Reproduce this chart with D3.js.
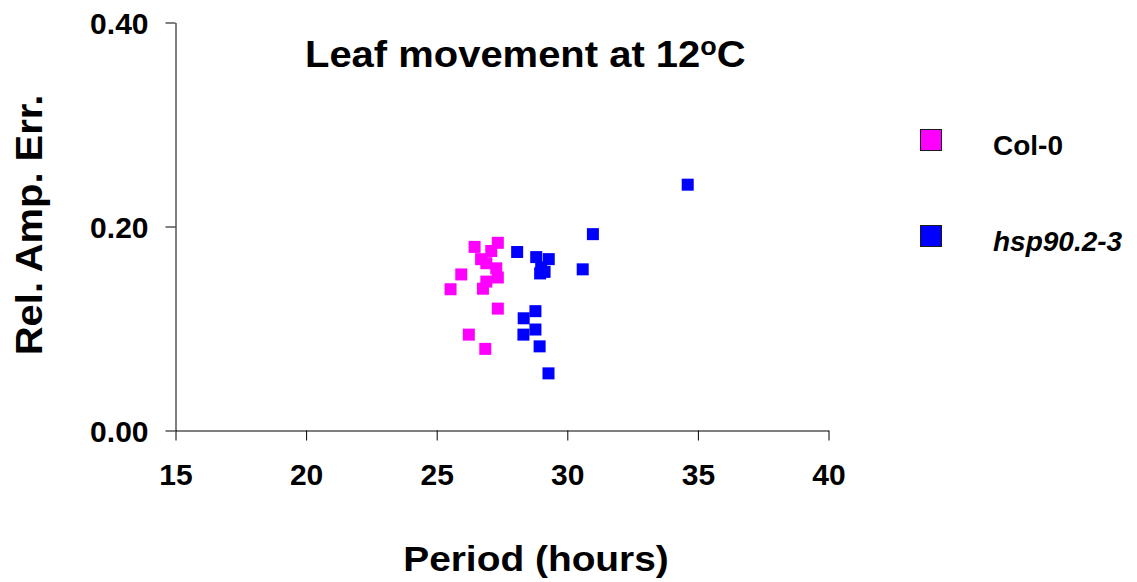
<!DOCTYPE html>
<html>
<head>
<meta charset="utf-8">
<script src="https://cdn.jsdelivr.net/npm/d3@7"></script>
<style>
  html, body { margin: 0; padding: 0; background: #fff; }
  svg { display: block; font-family: Arial, "Liberation Sans", sans-serif; }
</style>
</head>
<body>
<svg id="chart" width="1137" height="582"></svg>
<script>
// Period vs relative amplitude error, leaf movement at 12 °C
const seriesNames = ["Col-0", "hsp90.2-3"];
const seriesColors = ["#ff00ff", "#0000ff"];

const col0Period = [26.45, 27.34, 27.09, 26.70, 26.90, 27.28, 25.94, 27.34, 26.90, 25.53, 26.77, 27.34, 26.23, 26.86];
const col0RAE    = [0.180, 0.184, 0.176, 0.168, 0.164, 0.159, 0.153, 0.150, 0.146, 0.1385, 0.139, 0.1195, 0.094, 0.080];

const hspPeriod = [34.61, 30.98, 28.08, 28.81, 29.29, 30.59, 29.00, 28.96, 29.13, 28.78, 28.33, 28.78, 28.32, 28.94, 29.28];
const hspRAE    = [0.241, 0.1925, 0.175, 0.170, 0.168, 0.158, 0.160, 0.154, 0.1555, 0.117, 0.110, 0.099, 0.094, 0.0825, 0.056];

const xTicks = [15, 20, 25, 30, 35, 40];
const yTicks = [0.00, 0.20, 0.40];

const series = [
  { name: seriesNames[0], color: seriesColors[0], italic: false,
    points: col0Period.map((p, i) => ({ x: p, y: col0RAE[i] })) },
  { name: seriesNames[1], color: seriesColors[1], italic: true,
    points: hspPeriod.map((p, i) => ({ x: p, y: hspRAE[i] })) }
];

const svg = d3.select("#chart");
const x = d3.scaleLinear().domain([15, 40]).range([175.5, 828.5]);
const y = d3.scaleLinear().domain([0, 0.4]).range([430.5, 22.5]);

// axes
const xAxis = svg.append("g")
  .attr("transform", "translate(0,430.5)")
  .call(d3.axisBottom(x).tickValues(xTicks).tickSize(10).tickSizeOuter(0).tickPadding(23).tickFormat(d3.format("d")));
const yAxis = svg.append("g")
  .attr("transform", "translate(175.5,0)")
  .call(d3.axisLeft(y).tickValues(yTicks).tickSize(10).tickSizeOuter(0).tickPadding(17).tickFormat(d3.format(".2f")));

[xAxis, yAxis].forEach(g => {
  g.select(".domain").attr("stroke", "#000").attr("stroke-width", 1);
  g.selectAll(".tick line").attr("stroke", "#000").attr("stroke-width", 1);
  g.selectAll(".tick text")
    .attr("fill", "#000")
    .style("font-family", "Arial, 'Liberation Sans', sans-serif")
    .style("font-weight", "bold")
    .style("font-size", "30px");
});
xAxis.selectAll(".tick text").attr("dy", "0.71em");
yAxis.selectAll(".tick text").attr("dy", "0.36em");

// points
series.forEach(s => {
  svg.append("g").selectAll("rect")
    .data(s.points)
    .join("rect")
    .attr("x", d => x(d.x) - 6)
    .attr("y", d => y(d.y) - 6)
    .attr("width", 12)
    .attr("height", 12)
    .attr("fill", s.color);
});

// stretched bold text helper
function label(tx, ty, size, anchor, rot) {
  const t = svg.append("text")
    .attr("transform", `translate(${tx},${ty})` + (rot ? ` rotate(${rot})` : "") + " scale(1.08,1)")
    .attr("text-anchor", anchor)
    .style("font-weight", "bold")
    .style("font-size", size + "px")
    .attr("fill", "#000");
  return t;
}

// title
const title = label(305, 67, 37, "start");
title.append("tspan").text("Leaf movement at 12");
title.append("tspan").attr("font-size", "25px").attr("dy", -12).text("o");
title.append("tspan").attr("dy", 12).text("C");

// axis titles
label(536, 571, 36, "middle").text("Period (hours)");
label(42, 225, 37, "middle", -90).text("Rel. Amp. Err.");

// legend
const legendY = [129, 225];
series.forEach((s, i) => {
  svg.append("rect")
    .attr("x", 920.5).attr("y", legendY[i] + 0.5)
    .attr("width", 21).attr("height", 21)
    .attr("fill", s.color)
    .attr("stroke", "#1a1a1a").attr("stroke-width", 1);
  svg.append("text")
    .attr("x", 993).attr("y", legendY[i] + 26)
    .style("font-weight", "bold")
    .style("font-style", s.italic ? "italic" : "normal")
    .style("font-size", "28px")
    .attr("fill", "#000")
    .text(s.name);
});
</script>
</body>
</html>
